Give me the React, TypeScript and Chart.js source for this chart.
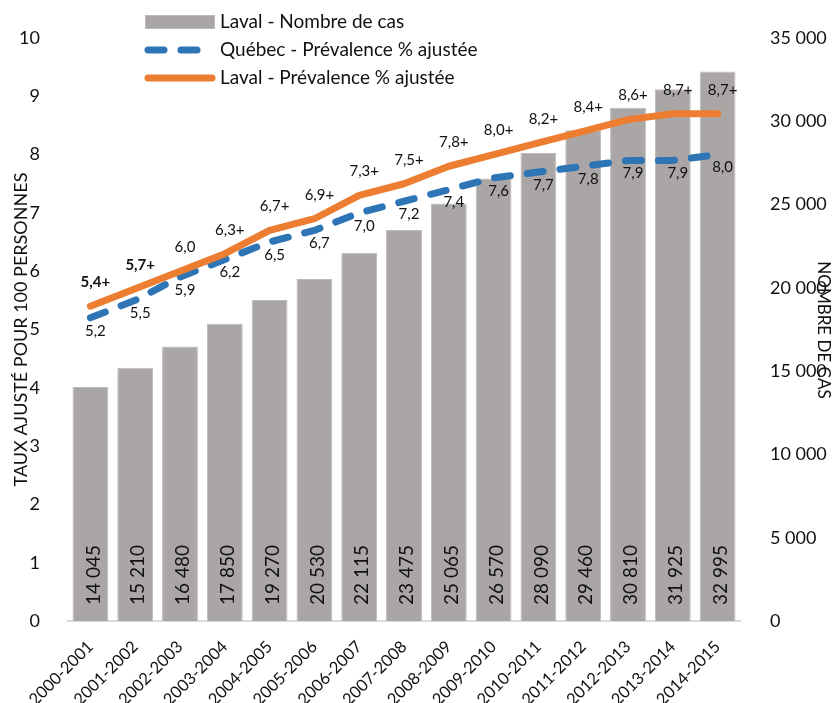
import { useEffect, useRef } from 'react';
import { Chart, registerables } from 'chart.js';

Chart.register(...registerables);

const categories = [
  '2000-2001', '2001-2002', '2002-2003', '2003-2004', '2004-2005',
  '2005-2006', '2006-2007', '2007-2008', '2008-2009', '2009-2010',
  '2010-2011', '2011-2012', '2012-2013', '2013-2014', '2014-2015',
];
const lavalCases = [14045, 15210, 16480, 17850, 19270, 20530, 22115, 23475, 25065, 26570, 28090, 29460, 30810, 31925, 32995];
const quebecRate = [5.2, 5.5, 5.9, 6.2, 6.5, 6.7, 7.0, 7.2, 7.4, 7.6, 7.7, 7.8, 7.9, 7.9, 8.0];
const lavalRate = [5.4, 5.7, 6.0, 6.3, 6.7, 6.9, 7.3, 7.5, 7.8, 8.0, 8.2, 8.4, 8.6, 8.7, 8.7];
const lavalRateSuffix = ['+', '+', '', '+', '+', '+', '+', '+', '+', '+', '+', '+', '+', '+', '+'];
const lavalRateBold = [true, true, false, false, false, false, false, false, false, false, false, false, false, false, false];

const seriesNames = ['Laval - Nombre de cas', 'Québec - Prévalence % ajustée', 'Laval - Prévalence % ajustée'];
const leftTitle = 'TAUX AJUSTÉ POUR 100 PERSONNES';
const rightTitle = 'NOMBRE DE CAS';

const FONT = 'Lato';
const BAR = '#aaa6a5';
const BAR_BORDER = '#bebbba';
const BLUE = '#2e75b6';
const ORANGE = '#ed7d31';
const TEXT = '#111111';

const fmtInt = (n: number) => String(Math.round(n)).replace(/\B(?=(\d{3})+(?!\d))/g, ' ');
const fmtDec = (v: number) => v.toFixed(1).replace('.', ',');

const annotate = {
  id: 'annotate',
  afterDatasetsDraw(chart: any) {
    const ctx = chart.ctx as CanvasRenderingContext2D;
    const area = chart.chartArea;
    ctx.save();
    ctx.fillStyle = TEXT;
    // bar value labels
    ctx.font = `19px ${FONT}`;
    const barMeta = chart.getDatasetMeta(0);
    barMeta.data.forEach((bar: any, i: number) => {
      ctx.save();
      ctx.translate(bar.x + 3, area.bottom - 16);
      ctx.rotate(-Math.PI / 2);
      ctx.textAlign = 'left';
      ctx.textBaseline = 'middle';
      ctx.fillText(fmtInt(lavalCases[i]), 0, 0);
      ctx.restore();
    });
    // Québec labels (below)
    const qMeta = chart.getDatasetMeta(1);
    ctx.font = `15px ${FONT}`;
    ctx.textAlign = 'center';
    ctx.textBaseline = 'middle';
    qMeta.data.forEach((pt: any, i: number) => {
      ctx.fillText(fmtDec(quebecRate[i]), pt.x + 5, pt.y + 13);
    });
    // Laval labels (above)
    const lMeta = chart.getDatasetMeta(2);
    lMeta.data.forEach((pt: any, i: number) => {
      ctx.font = `${lavalRateBold[i] ? 'bold ' : ''}15px ${FONT}`;
      ctx.fillText(fmtDec(lavalRate[i]) + lavalRateSuffix[i], pt.x + 5, pt.y - 24);
    });
    ctx.restore();
  },
  afterDraw(chart: any) {
    const ctx = chart.ctx as CanvasRenderingContext2D;
    ctx.save();
    // legend
    const lx = 145;
    const lw = 70;
    const rows = [22, 50, 78];
    ctx.fillStyle = BAR;
    ctx.strokeStyle = BAR_BORDER;
    ctx.lineWidth = 1;
    ctx.fillRect(lx, rows[0] - 7, lw, 14);
    ctx.strokeRect(lx + 0.5, rows[0] - 6.5, lw - 1, 13);
    ctx.lineCap = 'round';
    ctx.lineWidth = 7;
    ctx.strokeStyle = BLUE;
    ctx.setLineDash([16, 17]);
    ctx.beginPath();
    ctx.moveTo(lx + 3, rows[1]);
    ctx.lineTo(lx + lw - 3, rows[1]);
    ctx.stroke();
    ctx.setLineDash([]);
    ctx.strokeStyle = ORANGE;
    ctx.beginPath();
    ctx.moveTo(lx + 3, rows[2]);
    ctx.lineTo(lx + lw - 3, rows[2]);
    ctx.stroke();
    ctx.fillStyle = TEXT;
    ctx.font = `19px ${FONT}`;
    ctx.textAlign = 'left';
    ctx.textBaseline = 'middle';
    seriesNames.forEach((name, i) => ctx.fillText(name, lx + lw + 5, rows[i]));
    // axis titles
    ctx.textAlign = 'center';
    ctx.font = `18px ${FONT}`;
    ctx.save();
    ctx.translate(21.5, (chart.chartArea.top + chart.chartArea.bottom) / 2);
    ctx.rotate(-Math.PI / 2);
    ctx.fillText(leftTitle, 0, 0);
    ctx.restore();
    ctx.font = `17px ${FONT}`;
    ctx.save();
    ctx.translate(823, 330);
    ctx.rotate(Math.PI / 2);
    ctx.fillText(rightTitle, 0, 0);
    ctx.restore();
    ctx.restore();
  },
};

export default function App() {
  const ref = useRef<HTMLCanvasElement>(null);
  useEffect(() => {
    if (!ref.current) return;
    const chart = new Chart(ref.current, {
      type: 'bar',
      data: {
        labels: categories,
        datasets: [
          {
            type: 'bar',
            label: seriesNames[0],
            data: lavalCases,
            yAxisID: 'y1',
            backgroundColor: BAR,
            borderColor: BAR_BORDER,
            borderWidth: 1,
            categoryPercentage: 1,
            barPercentage: 0.8,
            order: 3,
          },
          {
            type: 'line',
            label: seriesNames[1],
            data: quebecRate,
            yAxisID: 'y',
            borderColor: BLUE,
            borderWidth: 7,
            borderDash: [16, 17],
            borderCapStyle: 'round',
            borderJoinStyle: 'round',
            pointRadius: 0,
            tension: 0,
            order: 2,
          },
          {
            type: 'line',
            label: seriesNames[2],
            data: lavalRate,
            yAxisID: 'y',
            borderColor: ORANGE,
            borderWidth: 7,
            borderCapStyle: 'round',
            borderJoinStyle: 'round',
            pointRadius: 0,
            tension: 0,
            order: 1,
          },
        ] as any,
      },
      options: {
        responsive: false,
        animation: false,
        layout: { padding: { top: 38, left: 0, right: 0, bottom: 0 } },
        plugins: { legend: { display: false }, tooltip: { enabled: false } },
        scales: {
          x: {
            grid: { display: false },
            border: { display: true, color: '#d9d9d9', width: 2 },
            ticks: {
              autoSkip: false,
              maxRotation: 45,
              minRotation: 45,
              padding: 8,
              color: TEXT,
              font: { family: FONT, size: 16.5 },
            },
            afterFit: (s: any) => { s.height = 82; },
          },
          y: {
            position: 'left',
            min: 0,
            max: 10,
            grid: { display: false },
            border: { display: false },
            ticks: { stepSize: 1, padding: 20, color: TEXT, font: { family: FONT, size: 18 } },
            afterFit: (s: any) => { s.width = 68; },
          },
          y1: {
            position: 'right',
            min: 0,
            max: 35000,
            grid: { display: false },
            border: { display: false },
            ticks: {
              stepSize: 5000,
              padding: 22,
              color: TEXT,
              font: { family: FONT, size: 18 },
              callback: (v: any) => fmtInt(Number(v)),
            },
            afterFit: (s: any) => { s.width = 95; },
          },
        },
      },
      plugins: [annotate],
    });
    return () => chart.destroy();
  }, []);
  return (
    <div style={{ position: 'fixed', left: 0, top: 0, width: 835, height: 703, background: '#fff' }}>
      <canvas ref={ref} width={835} height={703} style={{ width: 835, height: 703, display: 'block' }} />
    </div>
  );
}
